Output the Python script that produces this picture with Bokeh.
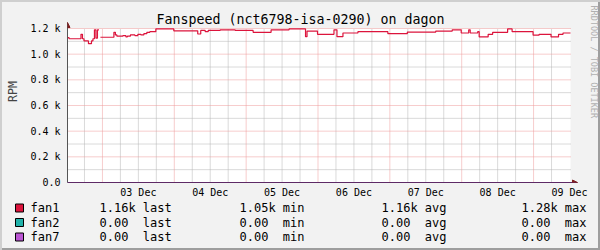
import numpy as np
import pandas as pd
from math import pi
from bokeh.plotting import figure
from bokeh.layouts import column
from bokeh.models import (FixedTicker, Label, Arrow, NormalHead, Range1d,
                          DatetimeTickFormatter)
from bokeh.core.properties import value
from bokeh.embed import file_html
from bokeh.resources import INLINE

# ---------------- data ----------------
title_text = "Fanspeed (nct6798-isa-0290) on dagon"
y_label = "RPM"
watermark = "RRDTOOL / TOBI OETIKER"
start_time = "2024-12-02 12:20"
span_hours = 168

fan1_hours = [0, 0.5, 4.5, 5, 5.5, 7, 8, 8.5, 9, 9.5, 10, 10.5, 11, 15.5, 16, 16.5,
              18.5, 19.5, 20, 21, 22.5, 23.5, 24.5, 25.5, 26.5, 27.5, 29.5, 35.5,
              43.5, 44.5, 46, 47, 51, 56, 62, 68, 74, 79.5, 80, 83.5, 89, 90, 92,
              97, 107, 113.5, 123, 128.5, 131.5, 134, 134.5, 137, 137.5, 140.5,
              142, 147, 148.5, 155.5, 157.5, 161.5, 164, 165.5]
fan1_rpm = [1130, 1120, 1155, 1120, 1103, 1082, 1103, 1120, 1190, 1125, 1190, np.nan,
            1132, 1170, 1150, 1140, 1145, 1135, 1140, 1150, 1145, 1155, 1150, 1160,
            1170, 1175, 1197, 1182, 1157, 1185, 1175, 1185, 1190, 1185, 1170, 1190,
            1197, 1136, 1180, 1155, 1190, 1136, 1165, 1175, 1160, 1172, 1180, 1190,
            1165, 1190, 1165, 1175, 1134, 1155, 1170, 1197, 1175, 1148, 1155, 1134,
            1155, 1165]
fan2_rpm = [0, 0]
fan7_rpm = [0, 0]

y_ticks = [0, 200, 400, 600, 800, 1000, 1200]
y_tick_labels = ["0.0", "0.2 k", "0.4 k", "0.6 k", "0.8 k", "1.0 k", "1.2 k"]
y_minor = [100, 300, 500, 700, 900, 1100]
y_max = 1200

legend_names = ["fan1", "fan2", "fan7"]
legend_colors = ["#DC143C", "#20B2AA", "#BA55D3"]
legend_last = ["1.16k", "0.00 ", "0.00 "]
legend_min = ["1.05k", "0.00 ", "0.00 "]
legend_avg = ["1.16k", "0.00 ", "0.00 "]
legend_max = ["1.28k", "0.00 ", "0.00 "]
stat_words = ["last", "min", "avg", "max"]

# ---------------- derived ----------------
MS_H = 3600e3
t0 = pd.Timestamp(start_time).value / 1e6
t_end = t0 + span_hours * MS_H

def step_xy(hours, vals, end_h):
    xs, ys = [], []
    hs = list(hours) + [end_h]
    for i, v in enumerate(vals):
        xs += [t0 + hs[i] * MS_H, t0 + hs[i + 1] * MS_H]
        ys += [v, v]
    return xs, ys

fx, fy = step_xy(fan1_hours, fan1_rpm, span_hours)

midnights = [pd.Timestamp(d).value / 1e6 for d in
             pd.date_range("2024-12-03", "2024-12-09", freq="D")]
noons = [m + 12 * MS_H for m in midnights]
six_h = [pd.Timestamp(d).value / 1e6 for d in
         pd.date_range("2024-12-02 18:00", "2024-12-09 06:00", freq="6h")]
six_h = [t for t in six_h if t not in midnights and t0 < t < t_end]

FONT = "DejaVu Sans Mono"
BG = "#F2F2F2"
W, H = 600, 250
HA = 200                 # chart figure height
L, B = 67, 18            # left / bottom borders of the chart figure
frame_w, frame_h = W - L, HA - B
plot_w_px, plot_h_px = 503, 154

px_per_ms = plot_w_px / (span_hours * MS_H)
px_per_rpm = plot_h_px / y_max

p = figure(width=W, height=HA, x_axis_type="datetime",
           x_range=(t0, t0 + frame_w / px_per_ms),
           y_range=(0, frame_h / px_per_rpm),
           min_border_left=L, min_border_right=0, min_border_top=0,
           min_border_bottom=B, output_backend="svg", toolbar_location=None,
           title=None)
p.frame_align = False
p.border_fill_color = None
p.background_fill_color = None
p.outline_line_color = None
p.grid.visible = False

# white canvas for the graph area
p.quad(left=[t0], right=[t_end], bottom=[0], top=[y_max], fill_color="white",
       line_color=None)

# grid
GRID_MINOR = "#B4B4B4"
GRID_MAJOR = "#EE9A9A"
p.segment(x0=[t0] * len(y_minor), x1=[t_end] * len(y_minor), y0=y_minor, y1=y_minor,
          line_color=GRID_MINOR, line_dash="1 1", line_width=1)
p.segment(x0=six_h, x1=six_h, y0=[0] * len(six_h), y1=[y_max] * len(six_h),
          line_color=GRID_MINOR, line_dash="1 1", line_width=1)
maj_y = y_ticks[1:]
p.segment(x0=[t0] * len(maj_y), x1=[t_end] * len(maj_y), y0=maj_y, y1=maj_y,
          line_color=GRID_MAJOR, line_dash="1 1", line_width=1)
p.segment(x0=midnights, x1=midnights, y0=[0] * len(midnights),
          y1=[y_max] * len(midnights),
          line_color=GRID_MAJOR, line_dash="1 1", line_width=1)

# series
p.line(fx, fy, line_color=legend_colors[0], line_width=1.2)
p.line([t0, t_end], fan2_rpm, line_color=legend_colors[1], line_width=1)
p.line([t0, t_end], fan7_rpm, line_color=legend_colors[2], line_width=1)

# axes
y_axis_top = y_max + 6 / px_per_rpm
x_axis_end = t_end + 7 / px_per_ms
for ax in (p.xaxis[0], p.yaxis[0]):
    ax.major_label_text_font = FONT
    ax.major_label_text_font_size = "10px"
    ax.major_label_text_color = "black"
    ax.minor_tick_line_color = None
    ax.major_tick_line_color = None
    ax.major_tick_out = 0
    ax.major_tick_in = 0

p.yaxis.ticker = FixedTicker(ticks=y_ticks)
p.yaxis.major_label_overrides = dict(zip(y_ticks, y_tick_labels))
p.yaxis.axis_line_color = "#555555"
p.yaxis.bounds = (0, y_axis_top)
p.yaxis.major_label_standoff = 7
p.yaxis.axis_label = y_label
p.yaxis.axis_label_text_font = FONT
p.yaxis.axis_label_text_font_size = "11.5px"
p.yaxis.axis_label_text_font_style = "normal"
p.yaxis.axis_label_standoff = 7

p.xaxis.ticker = FixedTicker(ticks=noons)
fmt = "%d %b"
p.xaxis.formatter = DatetimeTickFormatter(
    milliseconds=fmt, seconds=fmt, minsec=fmt, minutes=fmt, hourmin=fmt,
    hours=fmt, days=fmt, months=fmt, years=fmt)
p.xaxis.axis_line_color = "#5E2A66"
p.xaxis.bounds = (t0, x_axis_end)
p.xaxis.major_label_standoff = 4

ARROW = "#801F1F"
p.add_layout(Arrow(x_start=t0, y_start=y_axis_top - 1 / px_per_rpm, x_end=t0,
                   y_end=y_axis_top, line_color=ARROW, line_width=1,
                   end=NormalHead(size=5, fill_color=ARROW, line_color=ARROW)))
p.add_layout(Arrow(x_start=x_axis_end - 1 / px_per_ms, y_start=0, x_end=x_axis_end,
                   y_end=0, line_color=ARROW, line_width=1,
                   end=NormalHead(size=5, fill_color=ARROW, line_color=ARROW)))

# title and watermark (screen units relative to the frame)
p.add_layout(Label(x=300 - L, y=frame_h - 18.5, x_units="screen", y_units="screen",
                   text=title_text, text_font=FONT, text_font_size="13.3px",
                   text_align="center", text_baseline="middle", text_color="black"))
p.add_layout(Label(x=593 - L, y=frame_h - 5, x_units="screen", y_units="screen",
                   text=watermark, angle=-pi / 2, text_font=FONT,
                   text_font_size="8.5px", text_align="left", text_baseline="middle",
                   text_color="#B0B0B0"))

# ---------------- legend figure (canvas pixel coordinates) ----------------
HB = H - HA
lg = figure(width=W, height=HB, x_range=Range1d(0, W), y_range=Range1d(H, HA),
            min_border=0, min_border_left=0, min_border_right=0,
            min_border_top=0, min_border_bottom=0,
            output_backend="svg", toolbar_location=None, title=None)
lg.frame_align = False
lg.axis.visible = False
lg.grid.visible = False
lg.border_fill_color = None
lg.background_fill_color = None
lg.outline_line_color = None

row_y = [207.5, 222, 236.5]
item_x = [99, 239, 381, 521]
cols = [legend_last, legend_min, legend_avg, legend_max]
NBSP = "\u00a0"

lg.quad(left=[15] * 3, right=[23] * 3, top=[y - 4 for y in row_y],
        bottom=[y + 4 for y in row_y], fill_color=legend_colors,
        line_color="black", line_width=1)
tx, ty, tt = [], [], []
for i, name in enumerate(legend_names):
    tx.append(30); ty.append(row_y[i]); tt.append(name)
    for j in range(4):
        tx.append(item_x[j]); ty.append(row_y[i])
        tt.append(f"{cols[j][i]} {stat_words[j]}".replace(" ", NBSP))
lg.text(x=tx, y=ty, text=tt, text_font=value(FONT), text_font_size=value("12px"),
        text_baseline="middle", text_align="left", text_color="black")

layout = column(p, lg, spacing=0)
layout.styles = {"background-color": BG,
                 "box-shadow": "inset 2px 2px 0 #CFCFCF, inset -2px -2px 0 #9E9E9E"}

open("out.html", "w").write(file_html(layout, INLINE))
